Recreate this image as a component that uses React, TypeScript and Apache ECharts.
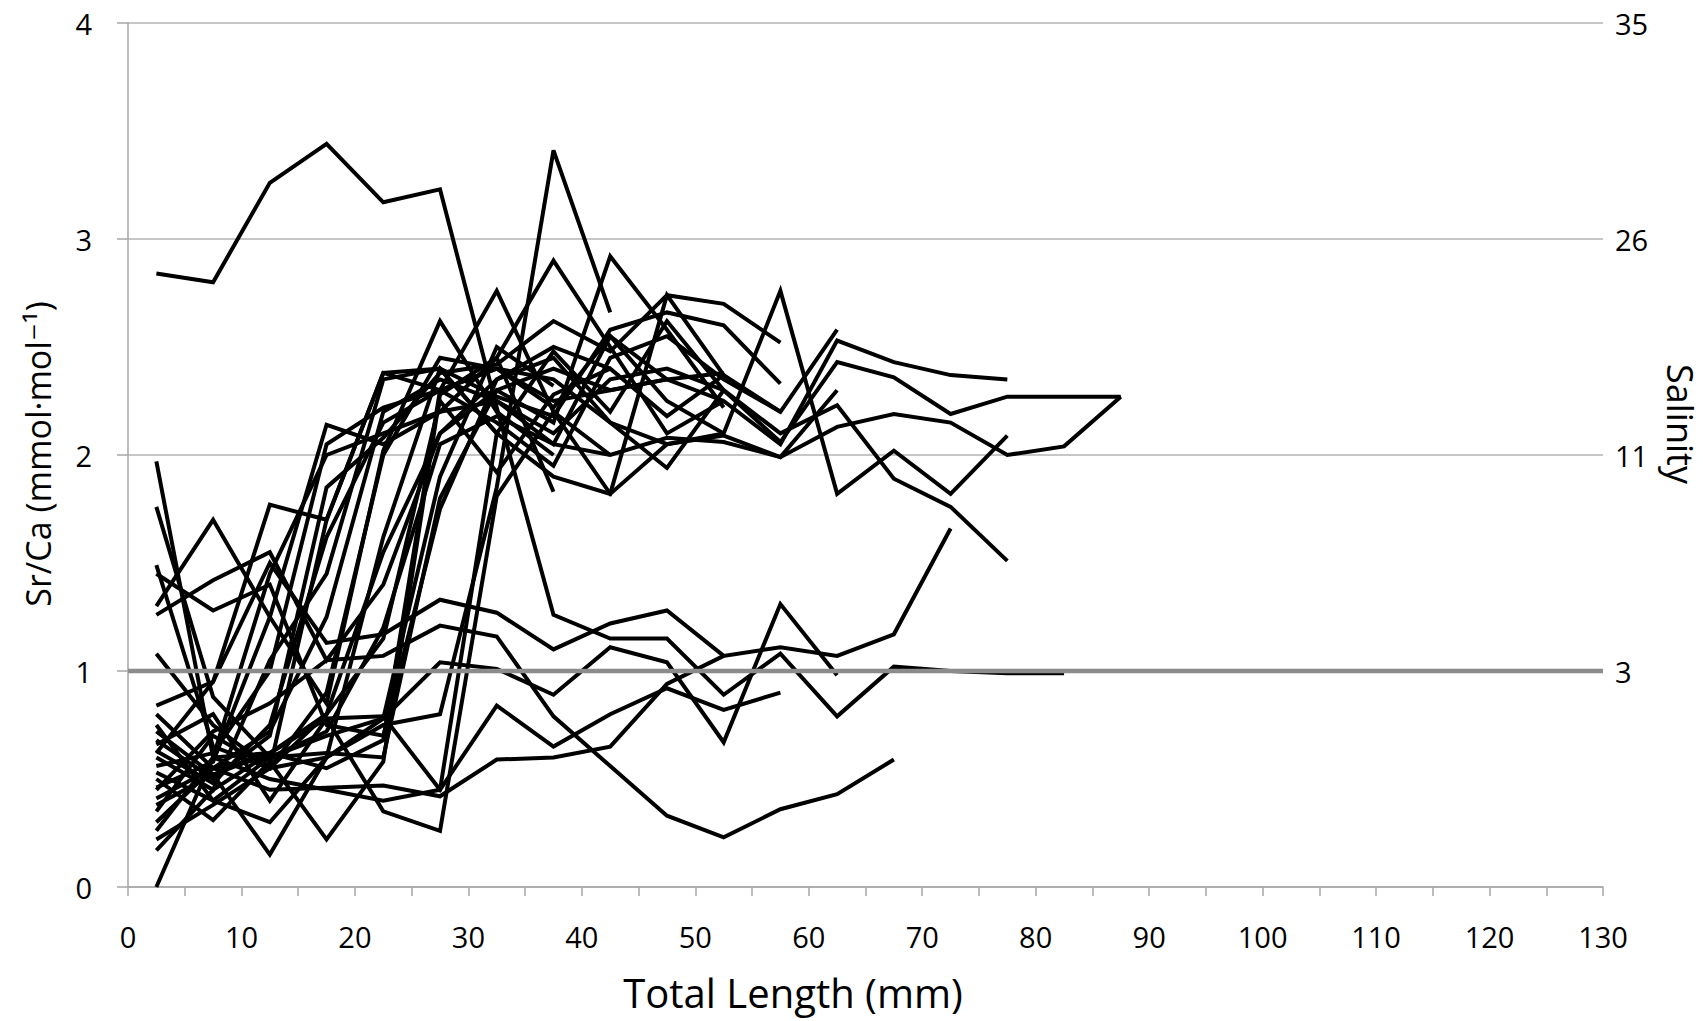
import React, { useEffect, useRef } from "react";
import * as echarts from "echarts";

// Bin mid-points of total length (mm)
const LENGTHS = [2.5, 7.5, 12.5, 17.5, 22.5, 27.5, 32.5, 37.5, 42.5, 47.5, 52.5, 57.5, 62.5, 67.5, 72.5, 77.5, 82.5, 87.5];

// Sr/Ca profiles (mmol·mol-1), one per fish, starting at 2.5 mm
const fishA = [2.84, 2.80, 3.26, 3.44, 3.17, 3.23, 2.22, 1.26, 1.15, 1.15, 0.89, 1.08, 0.79, 1.02, 1.00, 0.99, 0.99];
const fishB = [0.62, 0.95, 1.50, 1.13, 1.17, 1.33, 1.27, 1.10, 1.22, 1.28, 1.07, 1.11, 1.07, 1.17, 1.66];
const fishC = [0.45, 0.72, 0.85, 1.05, 1.07, 1.21, 1.16, 0.79, 0.56, 0.33, 0.23, 0.36, 0.43, 0.59];
const fishD = [0.80, 0.55, 0.60, 0.70, 0.78, 1.04, 1.01, 0.89, 1.11, 1.04, 0.67, 1.31, 0.98];
const fishE = [0.41, 0.55, 0.45, 0.46, 0.47, 0.42, 0.59, 0.60, 0.65, 0.94, 1.07];
const fishF = [0.72, 0.52, 0.62, 0.78, 0.79, 0.45, 0.84, 0.65, 0.80, 0.92, 0.82, 0.90];
const fish01 = [0.17, 0.45, 0.62, 0.80, 1.55, 2.10, 2.30, 2.40, 2.30, 2.35, 2.25, 2.05, 2.53, 2.43, 2.37, 2.35];
const fish02 = [0.30, 0.55, 0.72, 1.25, 2.20, 2.35, 2.25, 2.10, 2.35, 2.40, 2.30, 2.06, 2.43, 2.36, 2.19, 2.27, 2.27, 2.27];
const fish03 = [0.53, 0.40, 0.60, 0.72, 1.20, 2.05, 2.18, 2.05, 2.00, 2.08, 2.06, 1.99, 2.13, 2.19, 2.15, 2.00, 2.04, 2.27];
const fish04 = [0.63, 0.48, 0.75, 1.62, 2.15, 2.30, 2.40, 2.22, 2.55, 2.25, 2.10, 2.76, 1.82, 2.02, 1.82, 2.09];
const fish05 = [0.26, 0.60, 0.50, 0.45, 0.40, 0.45, 2.10, 2.48, 2.20, 2.62, 2.30, 2.10, 2.23, 1.89, 1.76, 1.51];
const fish06 = [0.56, 0.62, 1.00, 2.05, 2.22, 2.30, 2.15, 1.95, 2.45, 2.55, 2.35, 2.20, 2.58];
const fish07 = [0.35, 0.70, 0.55, 0.90, 2.00, 2.45, 2.40, 2.35, 2.15, 2.05, 2.09, 1.99, 2.30];
const fish08 = [0.68, 0.50, 0.70, 1.85, 2.08, 2.38, 2.42, 2.62, 2.48, 2.74, 2.70, 2.52];
const fish09 = [0.60, 0.45, 1.05, 1.45, 2.35, 2.40, 2.27, 2.18, 2.58, 2.66, 2.60, 2.33];
const fish10 = [1.08, 0.75, 0.55, 0.80, 1.15, 2.25, 1.92, 2.28, 2.40, 2.18, 2.37, 2.20];
const fish11 = [0.22, 0.38, 0.55, 0.60, 0.75, 0.80, 1.85, 3.41, 2.66];
const fish12 = [1.49, 0.65, 0.55, 1.70, 2.38, 2.30, 2.76, 2.20, 1.82, 2.05, 2.10];
const fish13 = [0.46, 0.58, 1.25, 2.14, 2.05, 2.20, 2.45, 2.90, 2.50, 2.10, 2.25];
const fish14 = [1.76, 0.88, 0.60, 0.62, 0.60, 1.80, 2.30, 2.15, 2.92, 2.58, 2.22];
const fish15 = [0.84, 0.95, 1.77, 1.70, 2.38, 2.40, 2.10, 1.90, 1.82, 2.74, 2.37];
const fish16 = [0.00, 0.60, 1.45, 2.00, 2.10, 2.20, 2.25, 2.05, 2.55, 2.35, 2.38];
const fish17 = [1.26, 1.42, 1.55, 1.05, 1.40, 2.10, 2.35, 2.45, 2.15, 1.94, 2.30];
const fish18 = [1.97, 0.60, 0.62, 0.55, 0.68, 2.30, 2.40, 2.25, 2.30, 2.35];
const fish19 = [1.45, 1.28, 1.40, 0.75, 0.70, 1.75, 2.35, 2.50, 2.40];
const fish20 = [1.30, 1.70, 1.25, 0.85, 2.02, 2.62, 2.20, 2.00];
const fish21 = [0.75, 0.40, 0.30, 0.60, 0.78, 1.90, 2.50, 2.32];
const fish22 = [0.50, 0.31, 0.58, 0.22, 0.58, 2.28, 2.45, 1.83];
const fish23 = [0.38, 0.52, 0.15, 0.60, 1.62, 2.40, 2.10];
const fish24 = [0.66, 0.80, 0.40, 0.78, 0.35, 0.26, 1.81, 2.20, 2.00];

const PROFILES = [
  fishA, fishB, fishC, fishD, fishE, fishF,
  fish01, fish02, fish03, fish04, fish05, fish06, fish07, fish08, fish09, fish10,
  fish11, fish12, fish13, fish14, fish15, fish16, fish17, fish18, fish19, fish20,
  fish21, fish22, fish23, fish24,
];

// Reference line (salinity 3 threshold, Sr/Ca = 1)
const REF_X = [0, 130];
const REF_Y = [1, 1];

// Right-hand salinity tick labels at Sr/Ca = 0,1,2,3,4
const SALINITY_LABELS = ["", "3", "11", "26", "35"];

const FONT = '"Open Sans", "DejaVu Sans", sans-serif';

export default function App() {
  const ref = useRef<HTMLDivElement>(null);

  useEffect(() => {
    const chart = echarts.init(ref.current as HTMLDivElement, null, { renderer: "svg" });

    const fishSeries = PROFILES.map((vals, k) => ({
      type: "line",
      name: "fish" + k,
      data: vals.map((v, i) => [LENGTHS[i], v]),
      showSymbol: false,
      symbol: "none",
      silent: true,
      lineStyle: { color: "#000000", width: 4, join: "miter" },
      z: 2,
    }));

    const refSeries = {
      type: "line",
      name: "ref",
      data: REF_X.map((x, i) => [x, REF_Y[i]]),
      showSymbol: false,
      symbol: "none",
      silent: true,
      lineStyle: { color: "#8c8c8c", width: 4.5 },
      z: 3,
    };

    const axisGray = "#a6a6a6";

    chart.setOption({
      animation: false,
      backgroundColor: "#ffffff",
      textStyle: { fontFamily: FONT },
      grid: { left: 128, right: 100, top: 23, bottom: 134, containLabel: false },
      xAxis: {
        type: "value",
        min: 0,
        max: 130,
        interval: 10,
        axisLine: { show: true, onZero: false, lineStyle: { color: axisGray, width: 1.5 } },
        axisTick: { show: true, length: 9, lineStyle: { color: axisGray, width: 1.5 } },
        minorTick: { show: true, splitNumber: 2, length: 9, lineStyle: { color: axisGray, width: 1.5 } },
        axisLabel: { color: "#000", fontSize: 29, margin: 35, fontFamily: FONT },
        splitLine: { show: false },
      },
      yAxis: [
        {
          type: "value",
          min: 0,
          max: 4,
          interval: 1,
          position: "left",
          axisLine: { show: true, lineStyle: { color: axisGray, width: 1.5 } },
          axisTick: { show: true, length: 11, lineStyle: { color: axisGray, width: 1.5 } },
          axisLabel: { color: "#000", fontSize: 29, margin: 36, fontFamily: FONT },
          splitLine: { show: true, lineStyle: { color: "#b3b3b3", width: 1.5 } },
        },
        {
          type: "value",
          min: 0,
          max: 4,
          interval: 1,
          position: "right",
          axisLine: { show: false },
          axisTick: { show: false },
          splitLine: { show: false },
          axisLabel: {
            color: "#000",
            fontSize: 29,
            margin: 12,
            fontFamily: FONT,
            formatter: (v: number) => SALINITY_LABELS[Math.round(v)] ?? "",
          },
        },
      ],
      graphic: [
        {
          type: "text",
          x: 793,
          y: 992,
          silent: true,
          style: {
            text: "Total Length (mm)",
            fontSize: 40,
            fontFamily: FONT,
            fill: "#000",
            textAlign: "center",
            textVerticalAlign: "middle",
          },
        },
        {
          type: "text",
          x: 38,
          y: 454,
          rotation: Math.PI / 2,
          silent: true,
          style: {
            text: "Sr/Ca (mmol·mol⁻¹)",
            fontSize: 34,
            fontFamily: FONT,
            fill: "#000",
            textAlign: "center",
            textVerticalAlign: "middle",
          },
        },
        {
          type: "text",
          x: 1680,
          y: 424,
          rotation: -Math.PI / 2,
          silent: true,
          style: {
            text: "Salinity",
            fontSize: 36,
            fontFamily: FONT,
            fill: "#000",
            textAlign: "center",
            textVerticalAlign: "middle",
          },
        },
      ],
      series: [...fishSeries, refSeries],
    });

    return () => chart.dispose();
  }, []);

  return (
    <div
      ref={ref}
      style={{ position: "fixed", left: 0, top: 0, width: 1703, height: 1021, background: "#fff" }}
    />
  );
}
